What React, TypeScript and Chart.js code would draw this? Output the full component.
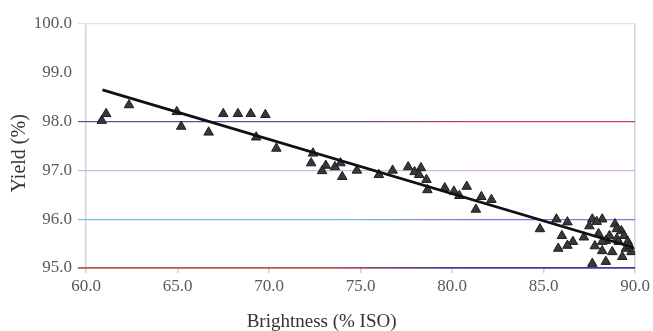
import React, { useEffect, useRef } from "react";
import { Chart, registerables } from "chart.js";

Chart.register(...registerables);

const brightness = [
  60.86, 61.1, 62.35, 64.96, 65.2, 66.7, 67.5, 68.3, 69.0, 69.8, 69.3, 70.4,
  72.4, 72.3, 73.1, 72.9, 73.6, 74.0, 73.9, 74.8, 76.0, 76.75, 77.6, 77.95,
  78.3, 78.2, 78.6, 78.65, 79.6, 80.1, 80.4, 80.8, 81.3, 81.6, 82.15, 84.8,
  85.7, 86.3, 86.0, 86.6, 85.8, 86.3, 87.2, 87.66, 88.2, 87.5, 87.8, 87.66,
  88.4, 88.2, 88.9, 88.6, 89.0, 89.25, 89.4, 88.75, 89.3, 89.8, 89.5, 89.1,
  89.6, 88.4, 88.2, 89.7, 89.0, 88.0, 87.9,
];
const yieldPct = [
  98.02, 98.16, 98.34, 98.2, 97.9, 97.78, 98.16, 98.16, 98.16, 98.14, 97.68,
  97.45, 97.35, 97.15, 97.1, 96.99, 97.07, 96.87, 97.15, 97.0, 96.91, 97.0,
  97.07, 96.97, 97.05, 96.91, 96.81, 96.6, 96.64, 96.57, 96.48, 96.67, 96.2,
  96.46, 96.4, 95.8, 96.0, 95.94, 95.66, 95.54, 95.4, 95.46, 95.63, 96.0,
  96.0, 95.86, 95.45, 95.09, 95.13, 95.35, 95.9, 95.66, 95.6, 95.76, 95.66,
  95.33, 95.23, 95.33, 95.4, 95.54, 95.54, 95.56, 95.54, 95.45, 95.8, 95.7,
  95.95,
];
const trendX = [60.9, 89.9];
const trendY = [98.65, 95.42];
const xTicks = [60, 65, 70, 75, 80, 85, 90];
const yTicks = [95, 96, 97, 98, 99, 100];
const xTitle = "Brightness (% ISO)";
const yTitle = "Yield (%)";

// gridline colour pairs (left -> right), imitating the scanned print
const yGridColors: Record<number, [string, string]> = {
  95: ["#c0505a", "#3a3aa8"],
  96: ["#70c8d8", "#8a70d8"],
  97: ["#b8c0e8", "#dcb0e4"],
  98: ["#5a4ca8", "#c8405c"],
};

const FONT = "'Liberation Serif', 'Times New Roman', serif";

const titlePlugin = {
  id: "axisTitles",
  afterDraw(chart: any) {
    const { ctx, chartArea: a } = chart;
    ctx.save();
    ctx.fillStyle = "#333";
    ctx.textAlign = "center";
    ctx.textBaseline = "middle";
    ctx.font = `19px ${FONT}`;
    ctx.fillText(xTitle, a.left + a.width * 0.429, a.bottom + 54);
    ctx.translate(20, a.top + a.height * 0.53);
    ctx.rotate(-Math.PI / 2);
    ctx.font = `20px ${FONT}`;
    ctx.fillText(yTitle, 0, 0);
    ctx.restore();
  },
};

export default function App() {
  const ref = useRef<HTMLCanvasElement>(null);
  useEffect(() => {
    if (!ref.current) return;
    const chart = new Chart(ref.current, {
      type: "scatter",
      data: {
        datasets: [
          {
            type: "line",
            data: trendX.map((x, i) => ({ x, y: trendY[i] })),
            borderColor: "#111",
            borderWidth: 2.8,
            pointRadius: 0,
            order: 0,
          },
          {
            data: brightness.map((x, i) => ({ x, y: yieldPct[i] })),
            pointStyle: "triangle",
            pointRadius: 5.5,
            backgroundColor: "#383838",
            borderColor: "#1e1e1e",
            borderWidth: 1,
            order: 1,
          } as any,
        ],
      },
      options: {
        animation: false,
        responsive: true,
        maintainAspectRatio: false,
        layout: { padding: { top: 24, right: 17, left: 0, bottom: 0 } },
        plugins: { legend: { display: false }, tooltip: { enabled: false } },
        scales: {
          x: {
            type: "linear",
            min: 60,
            max: 90,
            afterBuildTicks: (s: any) => {
              s.ticks = xTicks.map((v) => ({ value: v }));
            },
            afterFit: (s: any) => {
              s.height = 63;
            },
            ticks: {
              callback: (v: any) => Number(v).toFixed(1),
              color: "#5a5a5a",
              font: { family: FONT, size: 17 },
              maxRotation: 0,
              padding: 3,
            },
            grid: {
              color: (c: any) =>
                c.tick && (c.tick.value === 60 || c.tick.value === 90)
                  ? "#d2d2d8"
                  : "rgba(0,0,0,0)",
              tickColor: "#d0d0d0",
              tickLength: 5,
              lineWidth: 1.5,
            },
            border: { display: false },
          },
          y: {
            type: "linear",
            min: 95,
            max: 100,
            afterBuildTicks: (s: any) => {
              s.ticks = yTicks.map((v) => ({ value: v }));
            },
            afterFit: (s: any) => {
              s.width = 86;
            },
            ticks: {
              callback: (v: any) => Number(v).toFixed(1),
              color: "#5a5a5a",
              font: { family: FONT, size: 17 },
              padding: 6,
            },
            grid: {
              color: (c: any) => {
                const v = c.tick && c.tick.value;
                const pair = yGridColors[v];
                if (pair) {
                  const area = c.chart.chartArea;
                  if (!area) return pair[0];
                  const g = c.chart.ctx.createLinearGradient(
                    area.left - 8,
                    0,
                    area.right,
                    0
                  );
                  g.addColorStop(0, pair[0]);
                  g.addColorStop(0.45, pair[0]);
                  g.addColorStop(0.7, pair[1]);
                  g.addColorStop(1, pair[1]);
                  return g;
                }
                if (v === 100) return "#e4e4e8";
                return "rgba(0,0,0,0)";
              },
              tickLength: 8,
              lineWidth: (c: any) => (c.tick && c.tick.value === 95 ? 1.8 : 1.2),
            },
            border: { display: false },
          },
        },
      },
      plugins: [titlePlugin],
    });
    return () => chart.destroy();
  }, []);
  return (
    <div
      style={{
        position: "fixed",
        left: 0,
        top: 0,
        width: 653,
        height: 331,
        background: "#fff",
      }}
    >
      <canvas ref={ref} />
    </div>
  );
}
